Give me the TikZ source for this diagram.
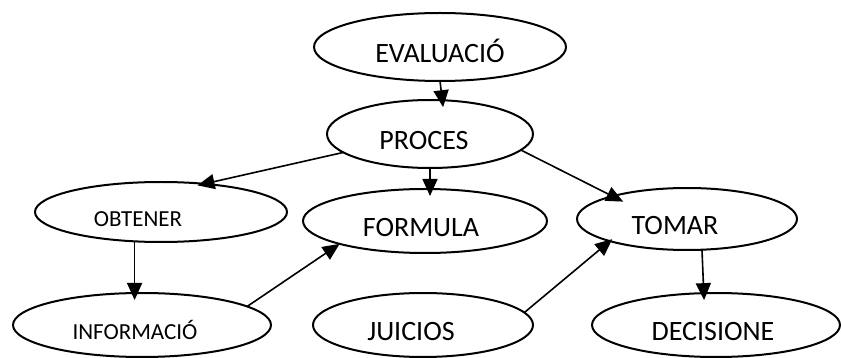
\documentclass[tikz,border=0pt]{standalone}
\usepackage{fontspec}
\setmainfont{Carlito}
\usetikzlibrary{arrows.meta, shapes.geometric, positioning}

\begin{document}
\begin{tikzpicture}[x=1pt, y=1pt, on grid,
	oval/.style={ellipse, draw, line width=2pt, inner sep=2pt, outer sep=0pt,
		font=\fontsize{28}{30}\selectfont, text height=31pt, text depth=0pt},
	small/.style={font=\fontsize{23}{25}\selectfont, text height=28.5pt},
	nudge/.style={execute at begin node={\kern#1}},
	>={Triangle[length=17pt, width=15pt]}]
		\useasboundingbox (0,0) rectangle (841,-358);
		
		\node[oval, minimum width=252pt, minimum height=68pt] (eval) at (440,-47) {EVALUACIÓ};
		\node[oval, nudge=-12pt, minimum width=206pt, minimum height=68pt, below left = 87pt and 10pt of eval] (proc) {PROCES};
		\node[oval, nudge=-8pt, minimum width=244pt, minimum height=64pt, below left = 87pt and 5pt of proc] (form) {FORMULA};
		\node[oval, small, nudge=-46pt, minimum width=252pt, minimum height=60pt, above left = 9pt and 264pt of form] (obt) {OBTENER};
		\node[oval, nudge=-24pt, minimum width=220pt, minimum height=62pt, above right = 2pt and 262pt of form] (tom) {TOMAR};
		
		\node[oval, small, nudge=-14pt, minimum width=258pt, minimum height=64pt, below left = 113pt and 19pt of obt] (inf) {INFORMACIÓ};
		\node[oval, nudge=-24pt, minimum width=220pt, minimum height=64pt, below left = 104pt and 2pt of form] (juic) {JUICIOS};
		\node[oval, nudge=-6pt, minimum width=248pt, minimum height=64pt, below right = 106pt and 29pt of tom] (dec) {DECISIONE};
		
		% heads run a little into the ovals
		\path[->, line width=1.6pt, shorten >=-7pt] (eval.south) edge (proc.70)
		(proc.south) edge (proc.south |- form.north)
		(proc.192) edge (obt.33)
		(proc.-10) edge[shorten >=-12pt] (tom.163)
		(obt.228) edge (obt.228 |- inf.north)
		(inf.10) edge[shorten >=0pt] (form.195)
		(juic.7) edge[shorten >=-3pt] (tom.196)
		(tom.-64) edge (dec.111);
\end{tikzpicture}
\end{document}
